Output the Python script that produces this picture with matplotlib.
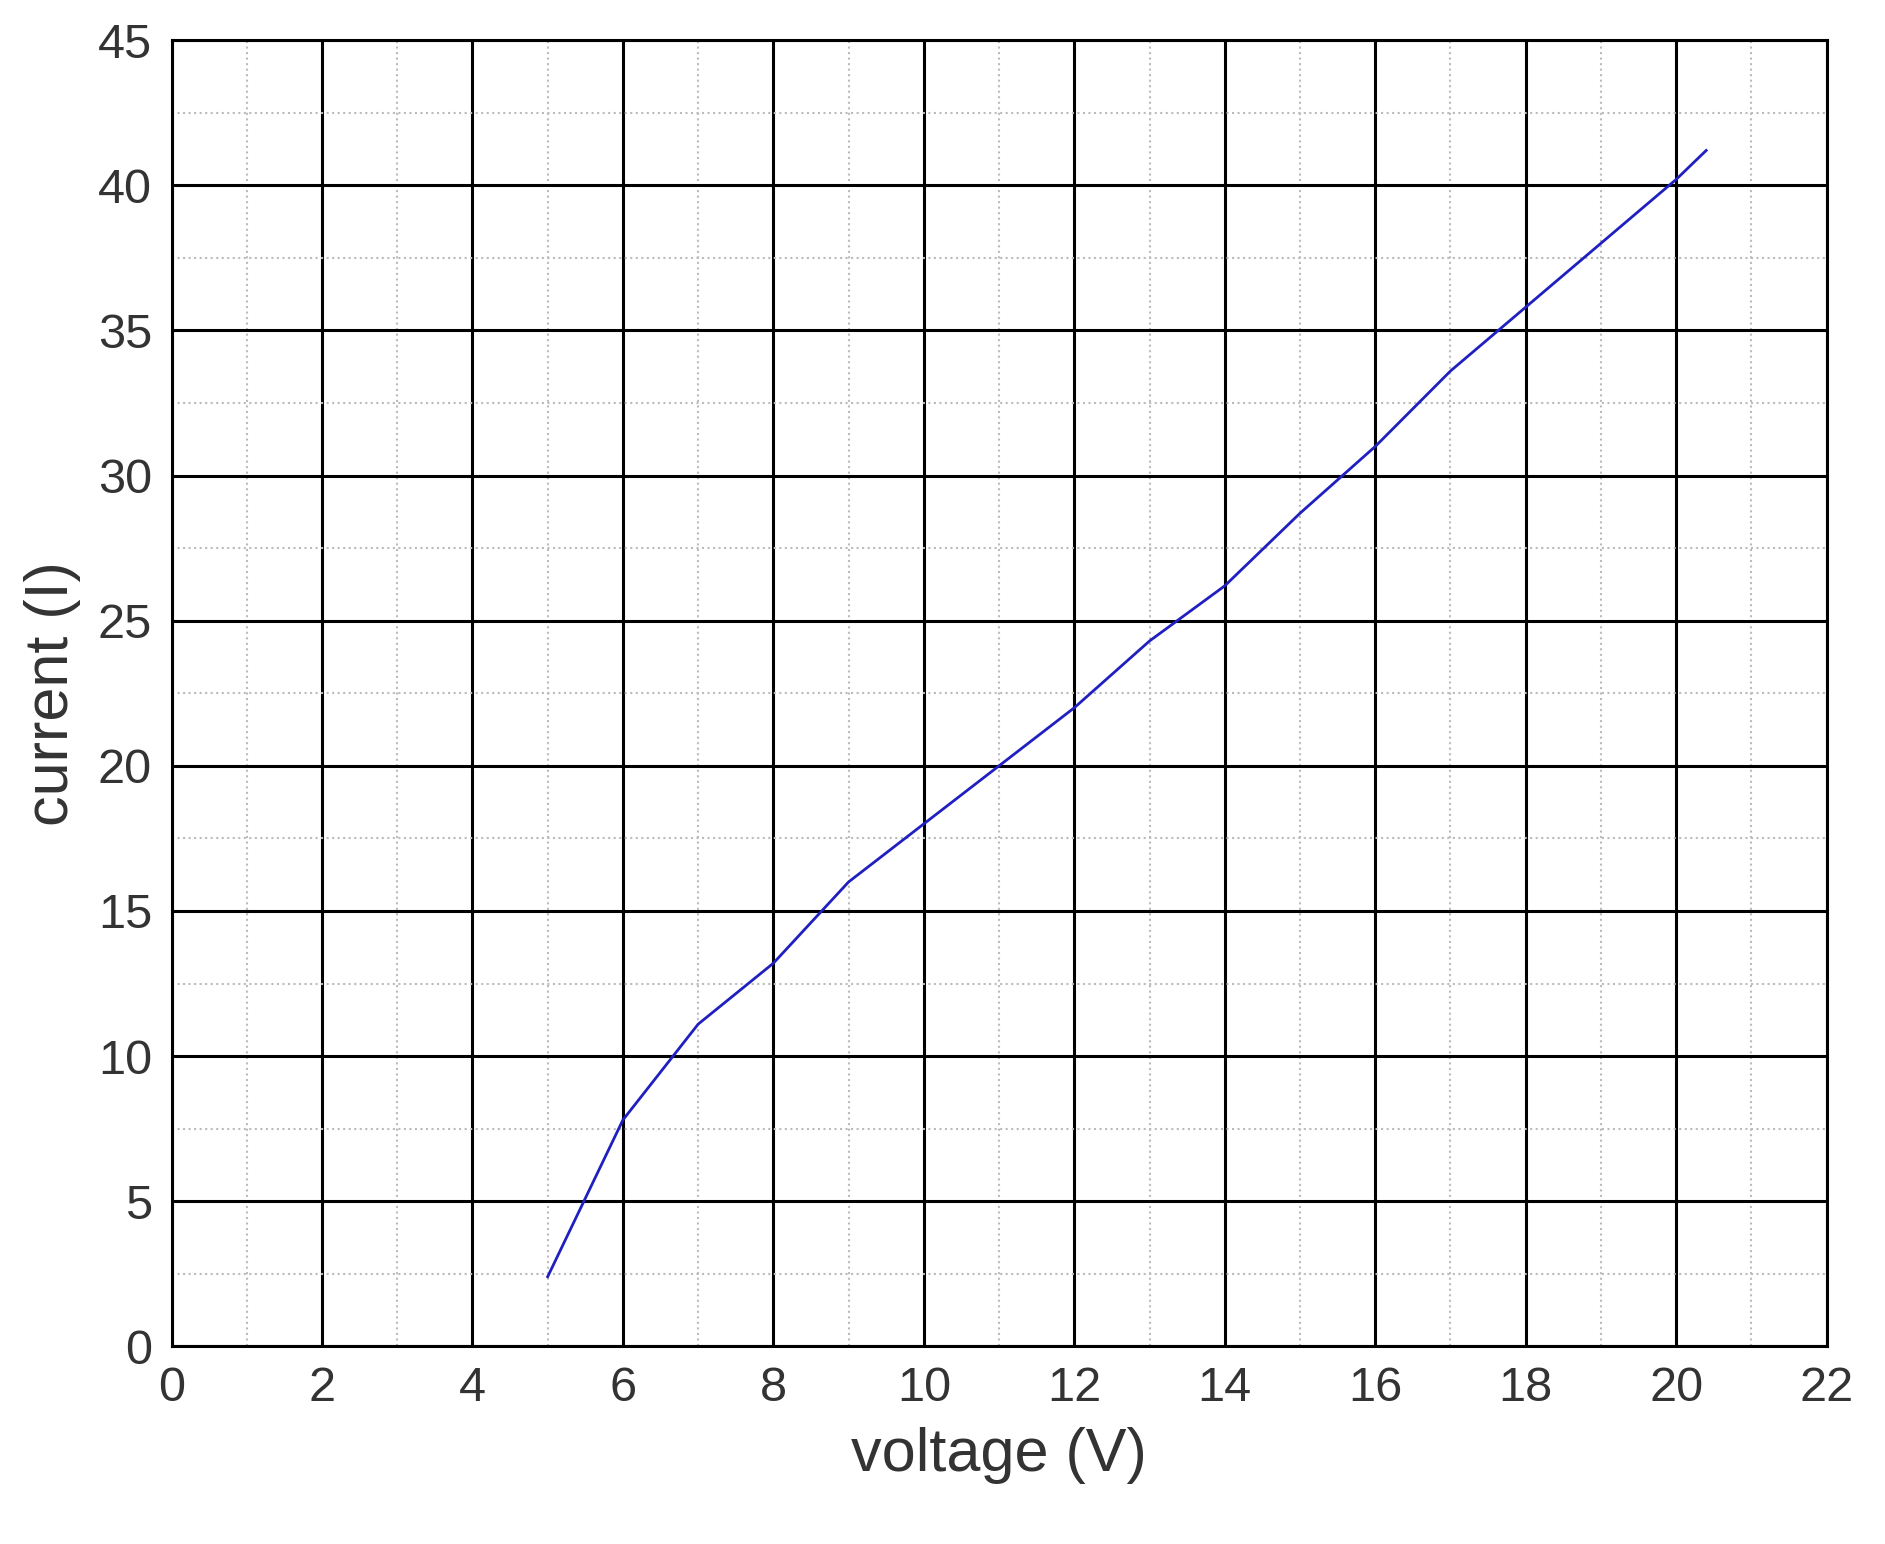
import matplotlib
matplotlib.use("Agg")
import matplotlib.pyplot as plt
from matplotlib.ticker import MultipleLocator

voltage = [5, 6, 7, 8, 9, 10, 11, 12, 13, 14, 15, 16, 17, 18, 19, 20, 20.4]
current = [2.4, 7.8, 11.1, 13.2, 16.0, 18.0, 20.0, 22.0, 24.3, 26.2, 28.7,
           31.0, 33.6, 35.8, 38.0, 40.2, 41.2]

plt.rcParams["font.family"] = ["Liberation Sans", "DejaVu Sans"]

fig = plt.figure(figsize=(18.85, 15.44), dpi=100)
ax = fig.add_axes([0.091, 0.128, 0.878, 0.846])
ax.plot(voltage, current, color="#2020c0", linewidth=2)

ax.set_xlim(0, 22)
ax.set_ylim(0, 45)
ax.xaxis.set_major_locator(MultipleLocator(2))
ax.xaxis.set_minor_locator(MultipleLocator(1))
ax.yaxis.set_major_locator(MultipleLocator(5))
ax.yaxis.set_minor_locator(MultipleLocator(2.5))
ax.grid(which="major", color="black", linewidth=2.2)
ax.grid(which="minor", color="#bbbbbb", linestyle=":", linewidth=1.5)
ax.tick_params(which="both", length=0, labelsize=35, colors="#333333", pad=14)
for s in ax.spines.values():
    s.set_linewidth(2.2)
ax.set_xlabel("voltage (V)", fontsize=44, color="#333333", labelpad=12)
ax.set_ylabel("current (I)", fontsize=44, color="#333333", labelpad=12)

fig.savefig("out.png", dpi=100)
